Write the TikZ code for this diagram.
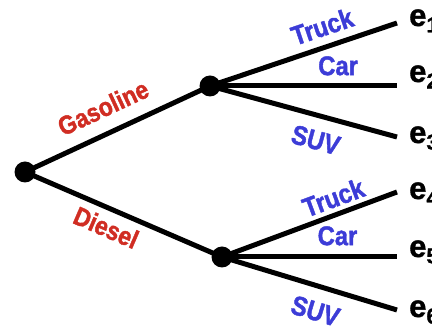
\documentclass[tikz,border=0pt]{standalone}
\usepackage{fontspec}
\setmainfont{Liberation Sans}
\newfontfamily\heavyfont[FakeStretch=0.88,FakeBold=1.5]{Liberation Sans Bold}
\newfontfamily\outfont[FakeBold=1.2]{Liberation Sans Bold}
\definecolor{fuelred}{RGB}{208,45,35}
\definecolor{bodyblue}{RGB}{60,60,215}
\begin{document}
\begin{tikzpicture}[x=1pt,y=-1pt,
  branch/.style={line width=5pt},
  dot/.style={circle,fill=black,inner sep=0pt,minimum size=21pt},
  fuel/.style={text=fuelred,font=\heavyfont\fontsize{26}{26}\selectfont,inner sep=0pt,sloped},
  body/.style={text=bodyblue,font=\heavyfont\fontsize{27}{27}\selectfont,inner sep=0pt,sloped},
  outcome/.style={font=\outfont\fontsize{31}{31}\selectfont,inner sep=0pt,anchor=base west}]
\useasboundingbox (0,0) rectangle (432,328);

% decision points
\coordinate (root) at (25,172);
\coordinate (gas) at (210,86);
\coordinate (dsl) at (222,257);

% branch ends
\coordinate (l1) at (397,23);
\coordinate (l2) at (397,86);
\coordinate (l3) at (397,137);
\coordinate (l4) at (397,192);
\coordinate (l5) at (397,257);
\coordinate (l6) at (397,310);

% fuel choice
\draw[branch] (root) -- node[fuel,pos=0.48,above=13.4pt]{Gasoline} (gas);
\draw[branch] (root) -- node[fuel,pos=0.45,below=6.7pt]{Diesel} (dsl);

% body type after gasoline
\draw[branch] (gas) -- node[body,pos=0.635,above=8.1pt]{Truck} (l1);
\draw[branch] (gas) -- node[body,pos=0.685,above=8.1pt]{Car} (l2);
\draw[branch] (gas) -- node[body,pos=0.6,below=12.2pt]{SUV} (l3);

% body type after diesel
\draw[branch] (dsl) -- node[body,pos=0.67,above=4.5pt]{Truck} (l4);
\draw[branch] (dsl) -- node[body,pos=0.66,above=9.1pt]{Car} (l5);
\draw[branch] (dsl) -- node[body,pos=0.575,below=12.6pt]{SUV} (l6);

\node[dot] (n0) at (root) {};
\node[dot] (n1) at (gas) {};
\node[dot] (n2) at (dsl) {};

% outcomes
\node[outcome] (e1) at (409,26) {e\textsubscript{1}};
\node[outcome] (e2) at (409,82) {e\textsubscript{2}};
\node[outcome] (e3) at (409,143) {e\textsubscript{3}};
\node[outcome] (e4) at (409,199) {e\textsubscript{4}};
\node[outcome] (e5) at (409,257) {e\textsubscript{5}};
\node[outcome] (e6) at (409,317) {e\textsubscript{6}};
\end{tikzpicture}
\end{document}
